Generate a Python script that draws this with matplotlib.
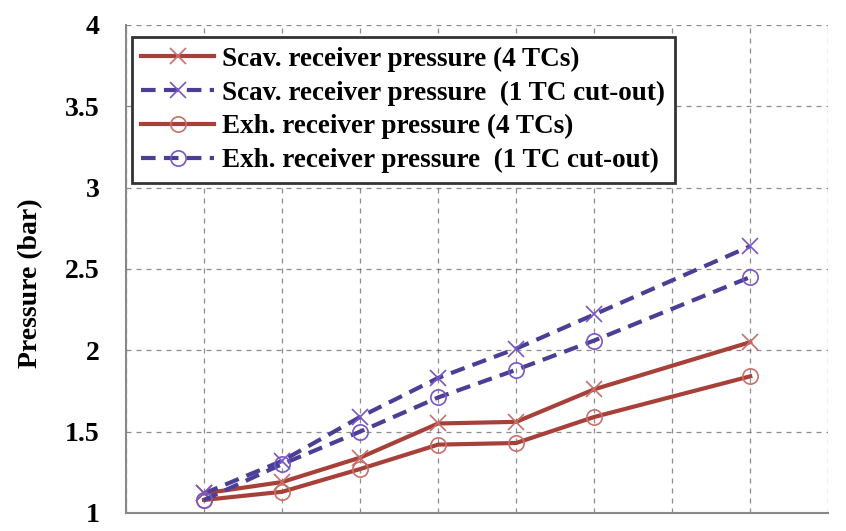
import matplotlib
matplotlib.use("Agg")
import matplotlib.pyplot as plt

# data (x positions are operating points)
x_points = [1, 2, 3, 4, 5, 6, 8]
scav_4tc = [1.12, 1.19, 1.34, 1.55, 1.56, 1.76, 2.05]
scav_1tc = [1.12, 1.32, 1.59, 1.83, 2.01, 2.22, 2.64]
exh_4tc = [1.08, 1.13, 1.27, 1.42, 1.43, 1.59, 1.84]
exh_1tc = [1.08, 1.30, 1.50, 1.71, 1.88, 2.06, 2.45]
y_ticks = [1, 1.5, 2, 2.5, 3, 3.5, 4]
y_tick_labels = ["1", "1.5", "2", "2.5", "3", "3.5", "4"]

RED = "#a8403a"
RED_MK = "#c8706a"
PURPLE = "#4a3f95"
PURPLE_MK = "#7a55c8"

plt.rcParams["font.family"] = ["Liberation Serif", "DejaVu Serif"]
plt.rcParams["font.weight"] = "bold"

fig = plt.figure(figsize=(8.46, 5.31), dpi=100)
ax = fig.add_axes([0.149, 0.034, 0.830, 0.919])

ax.plot(x_points, scav_4tc, color=RED, linestyle="-", linewidth=3,
        marker="x", markersize=11, markeredgecolor=RED_MK, markeredgewidth=1.2,
        label="Scav. receiver pressure (4 TCs)")
ax.plot(x_points, scav_1tc, color=PURPLE, linestyle=(0, (3.5, 2)), linewidth=3,
        marker="x", markersize=11, markeredgecolor=PURPLE_MK, markeredgewidth=1.2,
        label="Scav. receiver pressure  (1 TC cut-out)")
ax.plot(x_points, exh_4tc, color=RED, linestyle="-", linewidth=3,
        marker="o", markersize=11, markerfacecolor="none", markeredgecolor=RED_MK, markeredgewidth=1.2,
        label="Exh. receiver pressure (4 TCs)")
ax.plot(x_points, exh_1tc, color=PURPLE, linestyle=(0, (3.5, 2)), linewidth=3,
        marker="o", markersize=11, markerfacecolor="none", markeredgecolor=PURPLE_MK, markeredgewidth=1.2,
        label="Exh. receiver pressure  (1 TC cut-out)")

ax.set_xlim(0, 9)
ax.set_ylim(1, 4)
ax.set_xticks(range(0, 10))
ax.set_xticklabels([])
ax.set_yticks(y_ticks)
ax.set_yticklabels(y_tick_labels, fontsize=20, fontweight="bold")
ax.tick_params(axis="both", length=0, pad=19)
ax.grid(True, color="#666666", linestyle=(0, (4, 4)), linewidth=0.9, alpha=0.75)
for side in ["top", "right"]:
    ax.spines[side].set_visible(False)
for side in ["left", "bottom"]:
    ax.spines[side].set_color("#888888")
    ax.spines[side].set_linewidth(1.5)

ax.set_ylabel("Pressure (bar)", fontsize=20, fontweight="bold")
ax.yaxis.set_label_coords(-0.118, 0.47)

leg = ax.legend(loc="upper left", bbox_to_anchor=(0.008, 0.975), borderaxespad=0,
                fontsize=19.5, frameon=True, fancybox=False, framealpha=1, edgecolor="#333333",
                handlelength=2.7, handletextpad=0.3, labelspacing=0.32, borderpad=0.35)
leg.get_frame().set_linewidth(2)
for t in leg.get_texts():
    t.set_fontweight("bold")

fig.savefig("out.png", dpi=100)
